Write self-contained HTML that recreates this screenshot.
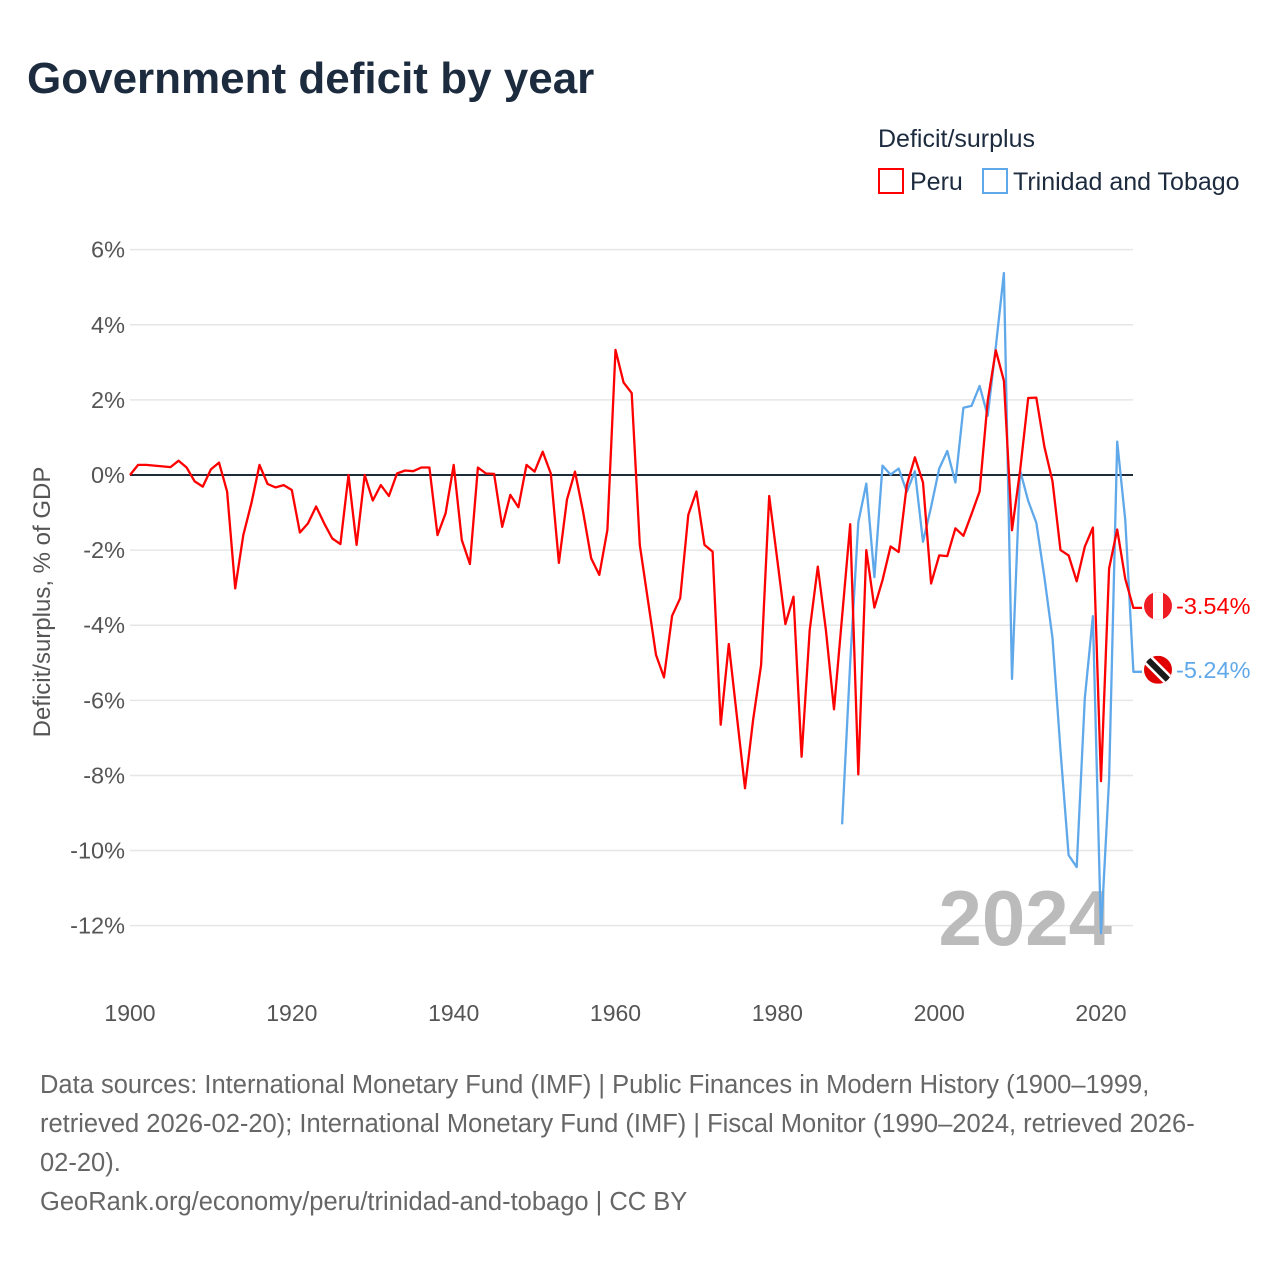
<!DOCTYPE html>
<html><head><meta charset="utf-8"><style>
body{margin:0;background:#fff;font-family:"Liberation Sans",sans-serif;}
svg text{font-family:"Liberation Sans",sans-serif;}
</style></head><body>
<svg width="1280" height="1280" xmlns="http://www.w3.org/2000/svg">
<text x="27" y="93" font-size="44" font-weight="bold" fill="#1d2b3f">Government deficit by year</text>
<text x="878" y="147" font-size="25" fill="#1d2b3f">Deficit/surplus</text>
<g><rect x="879" y="169" width="24" height="24" fill="#fff" stroke="#f00" stroke-width="2"/><text x="910" y="190" font-size="25" fill="#1d2b3f">Peru</text></g>
<g><rect x="983" y="169" width="24" height="24" fill="#fff" stroke="#5fa8ea" stroke-width="2"/><text x="1013" y="190" font-size="25" fill="#1d2b3f">Trinidad and Tobago</text></g>
<g id="grid"></g>
<text x="1112" y="945" font-size="78" font-weight="bold" fill="#bbb" text-anchor="end">2024</text>
<g id="plot"></g>
<text transform="translate(50,602) rotate(-90)" font-size="24" fill="#555" text-anchor="middle">Deficit/surplus, % of GDP</text>
<g font-size="25.5" fill="#666">
<text x="40" y="1093">Data sources: International Monetary Fund (IMF) | Public Finances in Modern History (1900–1999,</text>
<text x="40" y="1132">retrieved 2026-02-20); International Monetary Fund (IMF) | Fiscal Monitor (1990–2024, retrieved 2026-</text>
<text x="40" y="1171">02-20).</text>
<text x="40" y="1210">GeoRank.org/economy/peru/trinidad-and-tobago | CC BY</text>
</g>
</svg>
<script>
const peruYears=[1900,1901,1902,1903,1904,1905,1906,1907,1908,1909,1910,1911,1912,1913,1914,1915,1916,1917,1918,1919,1920,1921,1922,1923,1924,1925,1926,1927,1928,1929,1930,1931,1932,1933,1934,1935,1936,1937,1938,1939,1940,1941,1942,1943,1944,1945,1946,1947,1948,1949,1950,1951,1952,1953,1954,1955,1956,1957,1958,1959,1960,1961,1962,1963,1964,1965,1966,1967,1968,1969,1970,1971,1972,1973,1974,1975,1976,1977,1978,1979,1980,1981,1982,1983,1984,1985,1986,1987,1988,1989,1990,1991,1992,1993,1994,1995,1996,1997,1998,1999,2000,2001,2002,2003,2004,2005,2006,2007,2008,2009,2010,2011,2012,2013,2014,2015,2016,2017,2018,2019,2020,2021,2022,2023,2024];
const peruValues=[0,0.27,0.27,0.25,0.23,0.21,0.38,0.2,-0.17,-0.31,0.15,0.33,-0.44,-3.02,-1.6,-0.75,0.27,-0.24,-0.33,-0.27,-0.4,-1.53,-1.29,-0.84,-1.29,-1.69,-1.84,0,-1.86,0,-0.68,-0.27,-0.56,0.04,0.12,0.1,0.2,0.2,-1.6,-1.02,0.27,-1.73,-2.37,0.2,0.04,0.03,-1.38,-0.53,-0.86,0.27,0.09,0.62,0.04,-2.34,-0.65,0.09,-0.98,-2.22,-2.66,-1.46,3.33,2.46,2.18,-1.86,-3.33,-4.79,-5.39,-3.75,-3.28,-1.06,-0.44,-1.86,-2.04,-6.65,-4.5,-6.43,-8.34,-6.52,-5.06,-0.56,-2.26,-3.97,-3.24,-7.5,-4.13,-2.44,-4.13,-6.24,-3.77,-1.31,-7.97,-2.0,-3.53,-2.8,-1.9,-2.05,-0.27,0.47,-0.2,-2.89,-2.14,-2.16,-1.42,-1.62,-1.04,-0.44,1.97,3.32,2.51,-1.47,0.12,2.05,2.06,0.75,-0.17,-2.0,-2.14,-2.83,-1.91,-1.4,-8.15,-2.49,-1.45,-2.77,-3.54];
const ttYears=[1988,1989,1990,1991,1992,1993,1994,1995,1996,1997,1998,1999,2000,2001,2002,2003,2004,2005,2006,2007,2008,2009,2010,2011,2012,2013,2014,2015,2016,2017,2018,2019,2020,2021,2022,2023,2024];
const ttValues=[-9.3,-5.0,-1.26,-0.23,-2.72,0.25,0.01,0.17,-0.45,0.1,-1.78,-0.85,0.17,0.64,-0.2,1.79,1.84,2.37,1.58,3.41,5.38,-5.43,0.12,-0.69,-1.27,-2.72,-4.34,-7.34,-10.12,-10.44,-5.95,-3.76,-12.2,-8.1,0.89,-1.21,-5.24];
const yTicks=[6,4,2,0,-2,-4,-6,-8,-10,-12];
const xTicks=[1900,1920,1940,1960,1980,2000,2020];
const NS="http://www.w3.org/2000/svg";
const X=y=>130+(y-1900)*971/120;
const Y=v=>475-v*676/18;
function mk(tag,attrs,parent,txt){const e=document.createElementNS(NS,tag);for(const k in attrs)e.setAttribute(k,attrs[k]);if(txt!=null)e.textContent=txt;parent.appendChild(e);return e;}
const grid=document.getElementById('grid'),plot=document.getElementById('plot');
yTicks.forEach(t=>{
  const l=mk('line',{x1:130,x2:1133,y1:Y(t),y2:Y(t),stroke:'#e6e6e6','stroke-width':1.5},grid);
  
  
  const tx=mk('text',{x:125,y:Y(t)+8,'font-size':23.5,fill:'#555','text-anchor':'end'},grid,t+'%');
  
  
});
xTicks.forEach(t=>{
  const tx=mk('text',{x:X(t),y:1021,'font-size':23,fill:'#555','text-anchor':'middle'},grid,String(t));
  
  
});
const zl=mk('line',{x1:130,x2:1133,y1:Y(0),y2:Y(0),stroke:'#1d2b3a','stroke-width':2},grid);


function series(years,vals,color,name){
  let d=years.map((y,i)=>(i?'L':'M')+X(y).toFixed(1)+','+Y(vals[i]).toFixed(1)).join(' ');
  d+=' L1142,'+Y(vals[vals.length-1]).toFixed(1);
  const p=mk('path',{d:d,fill:'none',stroke:color,'stroke-width':2.3,'stroke-linejoin':'round'},plot);
  
  
}
series(ttYears,ttValues,'#5fa8ea','line-trinidad');
series(peruYears,peruValues,'#ff0000','line-peru');
const pv=peruValues[peruValues.length-1],tv=ttValues[ttValues.length-1];
const py=Y(pv)-2,ty=Y(tv)-2;
const g1=mk('g',{},plot);


mk('clipPath',{id:'c1'},g1);
mk('circle',{cx:1158,cy:py,r:14},g1.querySelector('#c1'));
mk('g',{'clip-path':'url(#c1)'},g1);
const gc1=g1.lastChild;
mk('rect',{x:1144,y:py-14,width:28,height:28,fill:'#ef1c24'},gc1);
mk('rect',{x:1153,y:py-14,width:10,height:28,fill:'#fff'},gc1);
const g2=mk('g',{},plot);


mk('clipPath',{id:'c2'},g2);
mk('circle',{cx:1158,cy:ty,r:14},g2.querySelector('#c2'));
mk('g',{'clip-path':'url(#c2)'},g2);
const gc2=g2.lastChild;
mk('rect',{x:1144,y:ty-14,width:28,height:28,fill:'#e00000'},gc2);
mk('line',{x1:1144,y1:ty-14,x2:1172,y2:ty+14,stroke:'#fff','stroke-width':11},gc2);
mk('line',{x1:1144,y1:ty-14,x2:1172,y2:ty+14,stroke:'#1a1a1a','stroke-width':6},gc2);
const l1=mk('text',{x:1176,y:py+8,'font-size':23.5,fill:'#ff0000'},plot,pv.toFixed(2)+'%');


const l2=mk('text',{x:1176,y:ty+8,'font-size':23.5,fill:'#5fa8ea'},plot,tv.toFixed(2)+'%');


</script>
</body></html>
